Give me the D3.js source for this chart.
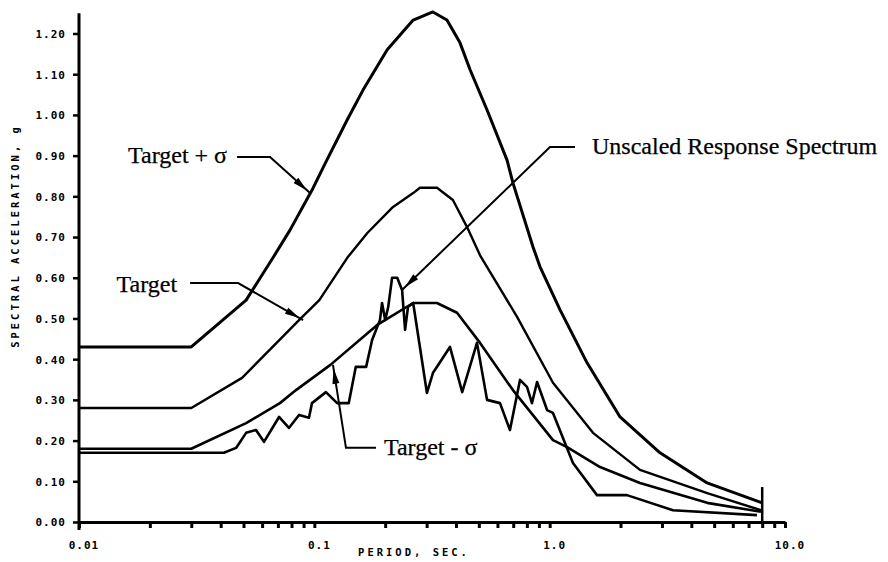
<!DOCTYPE html>
<html>
<head>
<meta charset="utf-8">
<script src="https://cdn.jsdelivr.net/npm/d3@7/dist/d3.min.js"></script>
<style>
  html, body { margin: 0; padding: 0; background: #fff; }
  svg { display: block; }
  .tick-label { font-family: "DejaVu Sans Mono", monospace; font-weight: bold; font-size: 11px; letter-spacing: 1px; fill: #000; }
  .axis-title { font-family: "DejaVu Sans Mono", monospace; font-weight: bold; font-size: 10.5px; letter-spacing: 3px; fill: #000; }
  .note { font-family: "Liberation Serif", "Times New Roman", serif; font-size: 24px; fill: #000; stroke: #000; stroke-width: 0.25px; }
</style>
</head>
<body>
<svg id="chart" width="888" height="562"></svg>
<script>
// Target spectrum + sigma (period in sec, spectral acceleration in g)
const plusSigmaPeriod = [0.01, 0.03, 0.0513, 0.0667, 0.0788, 0.0987, 0.113, 0.138, 0.161, 0.204, 0.263, 0.319, 0.366, 0.416, 0.459, 0.542, 0.659, 0.698, 0.849, 0.91, 1.107, 1.442, 1.991, 2.944, 4.666, 8.0];
const plusSigmaAccel  = [0.43, 0.43, 0.545, 0.649, 0.717, 0.82, 0.889, 0.988, 1.061, 1.16, 1.233, 1.253, 1.233, 1.177, 1.111, 1.012, 0.889, 0.833, 0.676, 0.627, 0.521, 0.391, 0.258, 0.17, 0.096, 0.047];

// Target spectrum
const targetPeriod = [0.01, 0.03, 0.0493, 0.0861, 0.105, 0.138, 0.168, 0.216, 0.263, 0.281, 0.332, 0.388, 0.445, 0.506, 0.727, 1.033, 1.528, 2.42, 4.67, 7.9];
const targetAccel  = [0.28, 0.28, 0.354, 0.496, 0.545, 0.649, 0.71, 0.774, 0.808, 0.821, 0.821, 0.791, 0.725, 0.655, 0.504, 0.342, 0.219, 0.128, 0.071, 0.029];

// Target spectrum - sigma
const minusSigmaPeriod = [0.01, 0.03, 0.0513, 0.0714, 0.0836, 0.117, 0.185, 0.263, 0.332, 0.404, 0.506, 0.698, 1.033, 1.186, 1.637, 2.42, 4.67, 7.9];
const minusSigmaAccel  = [0.18, 0.18, 0.243, 0.292, 0.324, 0.386, 0.484, 0.538, 0.538, 0.514, 0.44, 0.324, 0.201, 0.184, 0.135, 0.096, 0.047, 0.025];

// Unscaled response spectrum of the record
const unscaledPeriod = [0.01, 0.0413, 0.0465, 0.0513, 0.0565, 0.0611, 0.0708, 0.078, 0.0861, 0.0949, 0.0977, 0.112, 0.125, 0.14, 0.15, 0.166, 0.176, 0.19, 0.194, 0.2, 0.206, 0.214, 0.225, 0.236, 0.243, 0.25, 0.263, 0.301, 0.319, 0.377, 0.425, 0.491, 0.542, 0.615, 0.678, 0.748, 0.801, 0.841, 0.884, 0.975, 1.033, 1.256, 1.589, 2.13, 3.34, 7.6];
const unscaledAccel  = [0.17, 0.17, 0.182, 0.219, 0.226, 0.197, 0.258, 0.231, 0.263, 0.256, 0.292, 0.319, 0.292, 0.292, 0.381, 0.381, 0.447, 0.496, 0.538, 0.496, 0.528, 0.6, 0.6, 0.57, 0.472, 0.528, 0.538, 0.317, 0.366, 0.43, 0.319, 0.44, 0.3, 0.292, 0.226, 0.349, 0.332, 0.292, 0.344, 0.275, 0.268, 0.145, 0.066, 0.066, 0.029, 0.017];

// Vertical closing segment at the long-period end
const cutoffPeriod = 8.0;
const cutoffAccel = [0, 0.086];

// Axis ticks
const yTickValues = [0, 0.1, 0.2, 0.3, 0.4, 0.5, 0.6, 0.7, 0.8, 0.9, 1.0, 1.1, 1.2];
const xTickValues = [0.01, 0.02, 0.03, 0.04, 0.05, 0.06, 0.07, 0.08, 0.09,
                     0.1, 0.2, 0.3, 0.4, 0.5, 0.6, 0.7, 0.8, 0.9,
                     1, 2, 3, 4, 5, 6, 7, 8, 9, 10];
const xLabelValues = [0.01, 0.1, 1, 10];
const xLabelText = ["0.01", "0.1", "1.0", "10.0"];

// Callouts: arrow tip on a curve (data coords), then pixel offsets for elbow, tail and text
const noteText   = ["Target + \u03c3", "Target", "Target - \u03c3", "Unscaled Response Spectrum"];
const notePeriod = [0.0959, 0.0896, 0.120, 0.2358];
const noteAccel  = [0.808, 0.496, 0.386, 0.570];

const svg = d3.select("#chart");
const x = d3.scaleLog().domain([0.01, 10]).range([79, 785]);
const y = d3.scaleLinear().domain([0, 1.2]).range([522, 33.5]);

// Axes
const yAxis = d3.axisLeft(y).tickValues(yTickValues).tickSize(6).tickSizeOuter(0).tickFormat(d3.format(".2f"));
const gy = svg.append("g").attr("transform", "translate(79,0)").call(yAxis);
gy.select(".domain").remove();
gy.selectAll(".tick line").attr("stroke", "#000").attr("stroke-width", 2.5);
gy.selectAll(".tick text").attr("class", "tick-label").attr("x", -13).attr("dy", "0.35em");

svg.append("line")
  .attr("x1", x(0.01)).attr("x2", x(0.01))
  .attr("y1", y(0) + 8).attr("y2", y(1.25))
  .attr("stroke", "#000").attr("stroke-width", 3);

const xAxis = d3.axisBottom(x).tickValues(xTickValues).tickSize(6).tickSizeOuter(0).tickFormat(() => "");
const gx = svg.append("g").attr("transform", `translate(0,${y(0)})`).call(xAxis);
gx.select(".domain").attr("stroke", "#000").attr("stroke-width", 3);
gx.selectAll(".tick line").attr("stroke", "#000").attr("stroke-width", 3);

svg.append("g").selectAll("text")
  .data(xLabelValues)
  .join("text")
  .attr("class", "tick-label")
  .attr("x", d => x(d) + 5)
  .attr("y", y(0) + 27)
  .attr("text-anchor", "middle")
  .text((d, i) => xLabelText[i]);

svg.append("text")
  .attr("class", "axis-title")
  .attr("x", 414).attr("y", 556)
  .attr("text-anchor", "middle")
  .text("PERIOD, SEC.");

svg.append("text")
  .attr("class", "axis-title")
  .attr("transform", "translate(19,236) rotate(-90)")
  .attr("text-anchor", "middle")
  .text("SPECTRAL ACCELERATION, g");

// Curves
const line = d3.line().x(d => x(d[0])).y(d => y(d[1]));
const series = [
  [plusSigmaPeriod, plusSigmaAccel, 3],
  [targetPeriod, targetAccel, 2.4],
  [minusSigmaPeriod, minusSigmaAccel, 2.6],
  [unscaledPeriod, unscaledAccel, 2.6]
];
series.forEach(([p, a, w]) => {
  svg.append("path")
    .datum(p.map((v, i) => [v, a[i]]))
    .attr("d", line)
    .attr("fill", "none")
    .attr("stroke", "#000")
    .attr("stroke-width", w)
    .attr("stroke-linejoin", "round");
});

svg.append("line")
  .attr("x1", x(cutoffPeriod)).attr("x2", x(cutoffPeriod))
  .attr("y1", y(cutoffAccel[0])).attr("y2", y(cutoffAccel[1]))
  .attr("stroke", "#000").attr("stroke-width", 2.5);

// Callout leaders with arrowheads
const leaderShape = [
  { elbow: [-40, -36], tail: [-73, -36], text: [-83, -30], anchor: "end" },
  { elbow: [-65, -37], tail: [-113, -37], text: [-126, -28], anchor: "end" },
  { elbow: [13, 83], tail: [43, 83], text: [51, 90], anchor: "start" },
  { elbow: [148, -143], tail: [173, -143], text: [190, -136], anchor: "start" }
];

noteText.forEach((t, i) => {
  const tx = x(notePeriod[i]), ty = y(noteAccel[i]);
  const s = leaderShape[i];
  const ex = tx + s.elbow[0], ey = ty + s.elbow[1];
  svg.append("polyline")
    .attr("points", [[tx + s.tail[0], ty + s.tail[1]], [ex, ey], [tx, ty]].map(q => q.join(",")).join(" "))
    .attr("fill", "none").attr("stroke", "#000").attr("stroke-width", 2);

  // arrowhead on the last segment, pointing at the curve
  const dx = tx - ex, dy = ty - ey, len = Math.hypot(dx, dy);
  const ux = dx / len, uy = dy / len;
  const tipX = tx - ux * 4, tipY = ty - uy * 4;
  const baseX = tipX - ux * 15, baseY = tipY - uy * 15;
  const w = 3.5;
  svg.append("path")
    .attr("d", `M${tipX},${tipY} L${baseX - uy * w},${baseY + ux * w} L${baseX + uy * w},${baseY - ux * w} Z`)
    .attr("fill", "#000");

  svg.append("text")
    .attr("class", "note")
    .attr("x", tx + s.text[0]).attr("y", ty + s.text[1])
    .attr("text-anchor", s.anchor)
    .text(t);
});
</script>
</body>
</html>
